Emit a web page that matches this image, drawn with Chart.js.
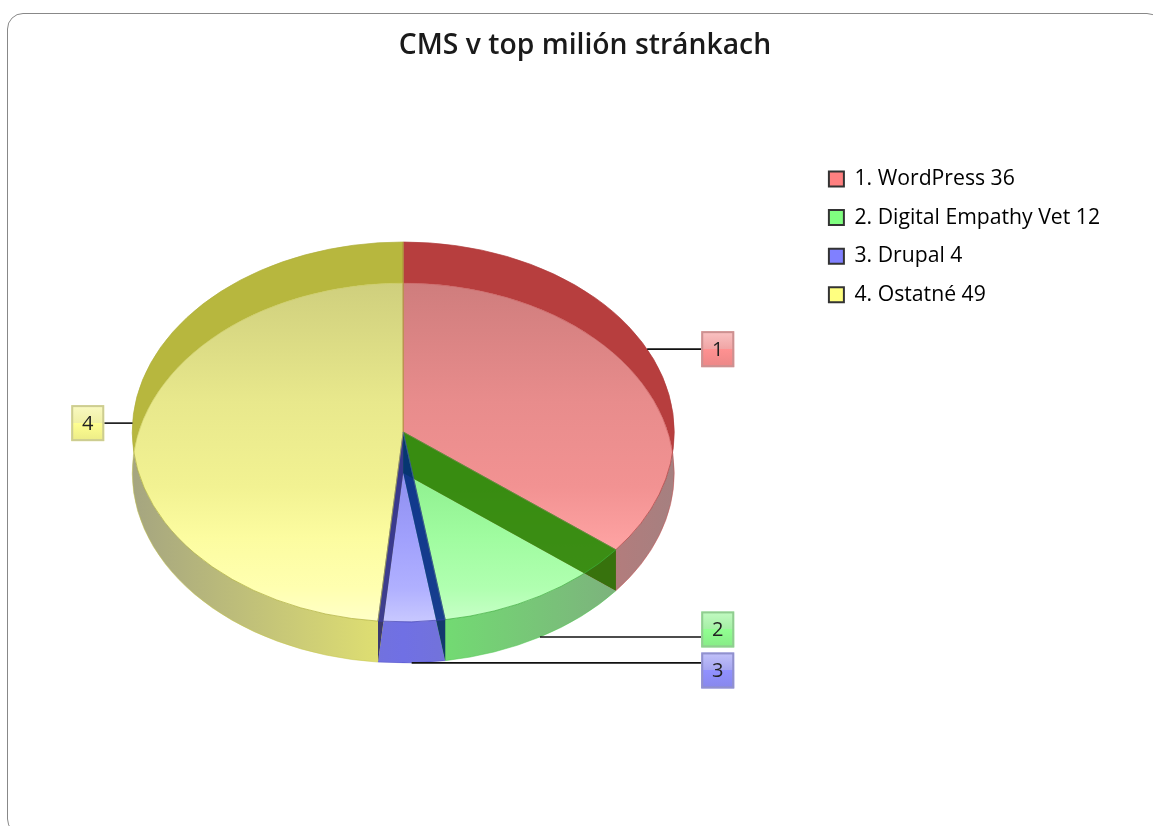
<!DOCTYPE html>
<html>
<head>
<meta charset="utf-8">
<title>CMS v top milión stránkach</title>
<script src="https://cdn.jsdelivr.net/npm/chart.js@4/dist/chart.umd.min.js"></script>
<style>
html, body { margin: 0; height: 100%; background: #fff; overflow: hidden; }
#frame {
    position: absolute; left: 7px; top: 13px; width: 1154px; height: 820px;
    border: 1px solid #888; border-radius: 16px; overflow: hidden;
    filter: blur(0.45px);
}
#frame canvas { display: block; }
</style>
</head>
<body>
<div id="frame"><canvas id="cmsChart" width="1154" height="820"></canvas></div>
<script>
const chartTitle = 'CMS v top milión stránkach';
const categories = ['WordPress', 'Digital Empathy Vet', 'Drupal', 'Ostatné'];
const cmsValues = [36, 12, 4, 49];
const sliceColors = ['#ff8080', '#80ff80', '#8080ff', '#ffff80'];

// 3D look: how flat the disc is and how thick
const squash = 0.701;
const depth = 41;
const tagW = 33;
const tagH = 36;

// bright channels go to hi, dim channels go to lo
function tone(i, hi, lo, alpha = 1) {
    const hex = sliceColors[i];
    const ch = [1, 3, 5].map(p => {
        const c = parseInt(hex.slice(p, p + 2), 16);
        return Math.round(lo + (c - 128) / 127 * (hi - lo));
    });
    return `rgba(${ch[0]},${ch[1]},${ch[2]},${alpha})`;
}

function wedge(ctx, arc, cy) {
    const r = arc.outerRadius;
    ctx.beginPath();
    ctx.moveTo(arc.x, cy);
    ctx.ellipse(arc.x, cy, r, r * squash, 0, arc.startAngle, arc.endAngle);
    ctx.closePath();
}

function clipOutside(ctx, arc, cy) {
    const r = arc.outerRadius;
    ctx.beginPath();
    ctx.rect(0, 0, ctx.canvas.width, ctx.canvas.height);
    ctx.ellipse(arc.x, cy, r, r * squash, 0, 0, Math.PI * 2);
    ctx.clip('evenodd');
}

function wallPath(ctx, arc, angle) {
    const r = arc.outerRadius;
    const px = arc.x + r * Math.cos(angle);
    const py = arc.y + r * squash * Math.sin(angle);
    ctx.beginPath();
    ctx.moveTo(arc.x, arc.y);
    ctx.lineTo(px, py);
    ctx.lineTo(px, py + depth);
    ctx.lineTo(arc.x, arc.y + depth);
    ctx.closePath();
}

function drawDisc(chart) {
    const ctx = chart.ctx;
    const arcs = chart.getDatasetMeta(0).data;
    const first = arcs[0];
    const r = first.outerRadius;
    const cx = first.x;
    const topY = first.y;
    const lowY = first.y + depth;

    arcs.forEach((arc, i) => {
        // face, only where both ellipses overlap
        ctx.save();
        ctx.beginPath();
        ctx.ellipse(cx, lowY, r, r * squash, 0, 0, Math.PI * 2);
        ctx.clip();
        const face = ctx.createLinearGradient(0, lowY - r * squash, 0, topY + r * squash);
        face.addColorStop(0, tone(i, 207, 125));
        face.addColorStop(0.35, tone(i, 232, 140));
        face.addColorStop(0.6, tone(i, 242, 146));
        face.addColorStop(0.75, tone(i, 252, 160));
        face.addColorStop(0.9, tone(i, 255, 176));
        face.addColorStop(1, tone(i, 255, 200));
        wedge(ctx, arc, topY);
        ctx.fillStyle = face;
        ctx.fill();
        ctx.restore();

        // back wall seen through the disc
        ctx.save();
        clipOutside(ctx, arc, lowY);
        wedge(ctx, arc, topY);
        ctx.fillStyle = tone(i, 183, 62);
        ctx.fill();
        ctx.restore();

        // front wall
        ctx.save();
        clipOutside(ctx, arc, topY);
        const wall = ctx.createLinearGradient(cx - r, 0, cx + r, 0);
        wall.addColorStop(0, tone(i, 165, 128));
        wall.addColorStop(0.5, tone(i, 228, 112));
        wall.addColorStop(1, tone(i, 165, 128));
        wedge(ctx, arc, lowY);
        ctx.fillStyle = wall;
        ctx.fill();
        ctx.restore();
    });

    // radial walls, slices nearest the front go last
    const midAngle = a => (a.startAngle + a.endAngle) / 2;
    const order = arcs.map((a, i) => i)
        .sort((a, b) => Math.abs(midAngle(arcs[b]) - Math.PI / 2) - Math.abs(midAngle(arcs[a]) - Math.PI / 2));
    order.forEach(i => {
        [arcs[i].startAngle, arcs[i].endAngle].forEach(angle => {
            wallPath(ctx, arcs[i], angle);
            ctx.fillStyle = tone(i, 170, 0, 0.65);
            ctx.fill();
            ctx.save();
            clipOutside(ctx, arcs[i], topY);
            wallPath(ctx, arcs[i], angle);
            ctx.fillStyle = 'rgba(60,40,20,0.12)';
            ctx.fill();
            ctx.restore();
        });
    });

    // edges
    arcs.forEach((arc, i) => {
        wedge(ctx, arc, topY);
        ctx.lineWidth = 1;
        ctx.strokeStyle = tone(i, 175, 60, 0.7);
        ctx.stroke();
        ctx.beginPath();
        ctx.ellipse(cx, lowY, r, r * squash, 0, arc.startAngle, arc.endAngle);
        ctx.strokeStyle = tone(i, 200, 80, 0.5);
        ctx.stroke();
    });
}

function drawTags(chart) {
    const ctx = chart.ctx;
    const arcs = chart.getDatasetMeta(0).data;
    const tags = arcs.map((arc, i) => {
        const mid = (arc.startAngle + arc.endAngle) / 2;
        const r = arc.outerRadius;
        const ax = arc.x + r * Math.cos(mid);
        const ay = arc.y + r * squash * Math.sin(mid) + (Math.sin(mid) > 0 ? depth : 0);
        const right = Math.cos(mid) >= 0;
        const tx = right ? arc.x + r + 27 : arc.x - r - 28 - tagW;
        return { i, ax, ay, tx, right, ty: ay };
    });

    // push apart tags that would overlap on the same side
    [true, false].forEach(side => {
        const list = tags.filter(t => t.right === side).sort((a, b) => a.ay - b.ay);
        for (let k = 1; k < list.length; k++) {
            const gap = tagH + 5 - (list[k].ty - list[k - 1].ty);
            if (gap > 0) {
                list[k - 1].ty -= gap / 2;
                list[k].ty += gap / 2;
            }
        }
    });

    tags.forEach(t => {
        ctx.beginPath();
        ctx.moveTo(t.ax, t.ay);
        ctx.lineTo(t.right ? t.tx : t.tx + tagW, t.ay);
        ctx.lineWidth = 1.6;
        ctx.strokeStyle = '#111';
        ctx.stroke();

        const top = t.ty - tagH / 2;
        const lowFill = ctx.createLinearGradient(0, top, 0, top + tagH);
        lowFill.addColorStop(0, tone(t.i, 250, 195));
        lowFill.addColorStop(0.49, tone(t.i, 240, 165));
        lowFill.addColorStop(0.5, tone(t.i, 255, 145));
        lowFill.addColorStop(1, tone(t.i, 235, 135));
        ctx.fillStyle = lowFill;
        ctx.fillRect(t.tx, top, tagW, tagH);
        ctx.lineWidth = 2;
        ctx.strokeStyle = tone(t.i, 205, 145);
        ctx.strokeRect(t.tx + 1, top + 1, tagW - 2, tagH - 2);

        ctx.fillStyle = '#222';
        ctx.font = '20px "Open Sans"';
        ctx.textAlign = 'center';
        ctx.textBaseline = 'middle';
        ctx.fillText(String(t.i + 1), t.tx + tagW / 2, t.ty + 1);
    });
}

const glassPie = {
    id: 'glassPie',
    afterLayout(chart) {
        // title spans the whole frame, legend sits high up on the right
        chart.titleBlock.left = 0;
        chart.titleBlock.right = chart.width;
        const lg = chart.legend;
        const w = lg.width;
        const h = lg.height;
        lg.left = 803.5;
        lg.right = 803.5 + w;
        lg.top = 137;
        lg.bottom = 137 + h;
    },
    beforeDatasetDraw(chart) {
        drawDisc(chart);
        return false;
    },
    afterDatasetsDraw(chart) {
        drawTags(chart);
    }
};

new Chart(document.getElementById('cmsChart'), {
    type: 'pie',
    data: {
        labels: categories,
        datasets: [{
            data: cmsValues,
            backgroundColor: sliceColors,
            radius: 271
        }]
    },
    options: {
        responsive: false,
        animation: false,
        layout: { padding: { left: 85, right: 150, bottom: 38 } },
        plugins: {
            title: {
                display: true,
                text: chartTitle,
                color: '#1a1a1a',
                font: { family: '"Open Sans"', size: 28.3, weight: '600' },
                padding: { top: 15, bottom: 5 }
            },
            legend: {
                position: 'right',
                align: 'start',
                labels: {
                    color: '#3a3a3a',
                    font: { family: '"Open Sans"', size: 21.2 },
                    boxWidth: 15,
                    boxHeight: 15,
                    padding: 17.4,
                    generateLabels: chart => chart.data.labels.map((name, i) => ({
                        text: `${i + 1}. ${name} ${cmsValues[i]}`,
                        fillStyle: sliceColors[i],
                        strokeStyle: '#333',
                        lineWidth: 2,
                        index: i
                    }))
                }
            },
            tooltip: { enabled: false }
        }
    },
    plugins: [glassPie]
});
</script>
</body>
</html>
